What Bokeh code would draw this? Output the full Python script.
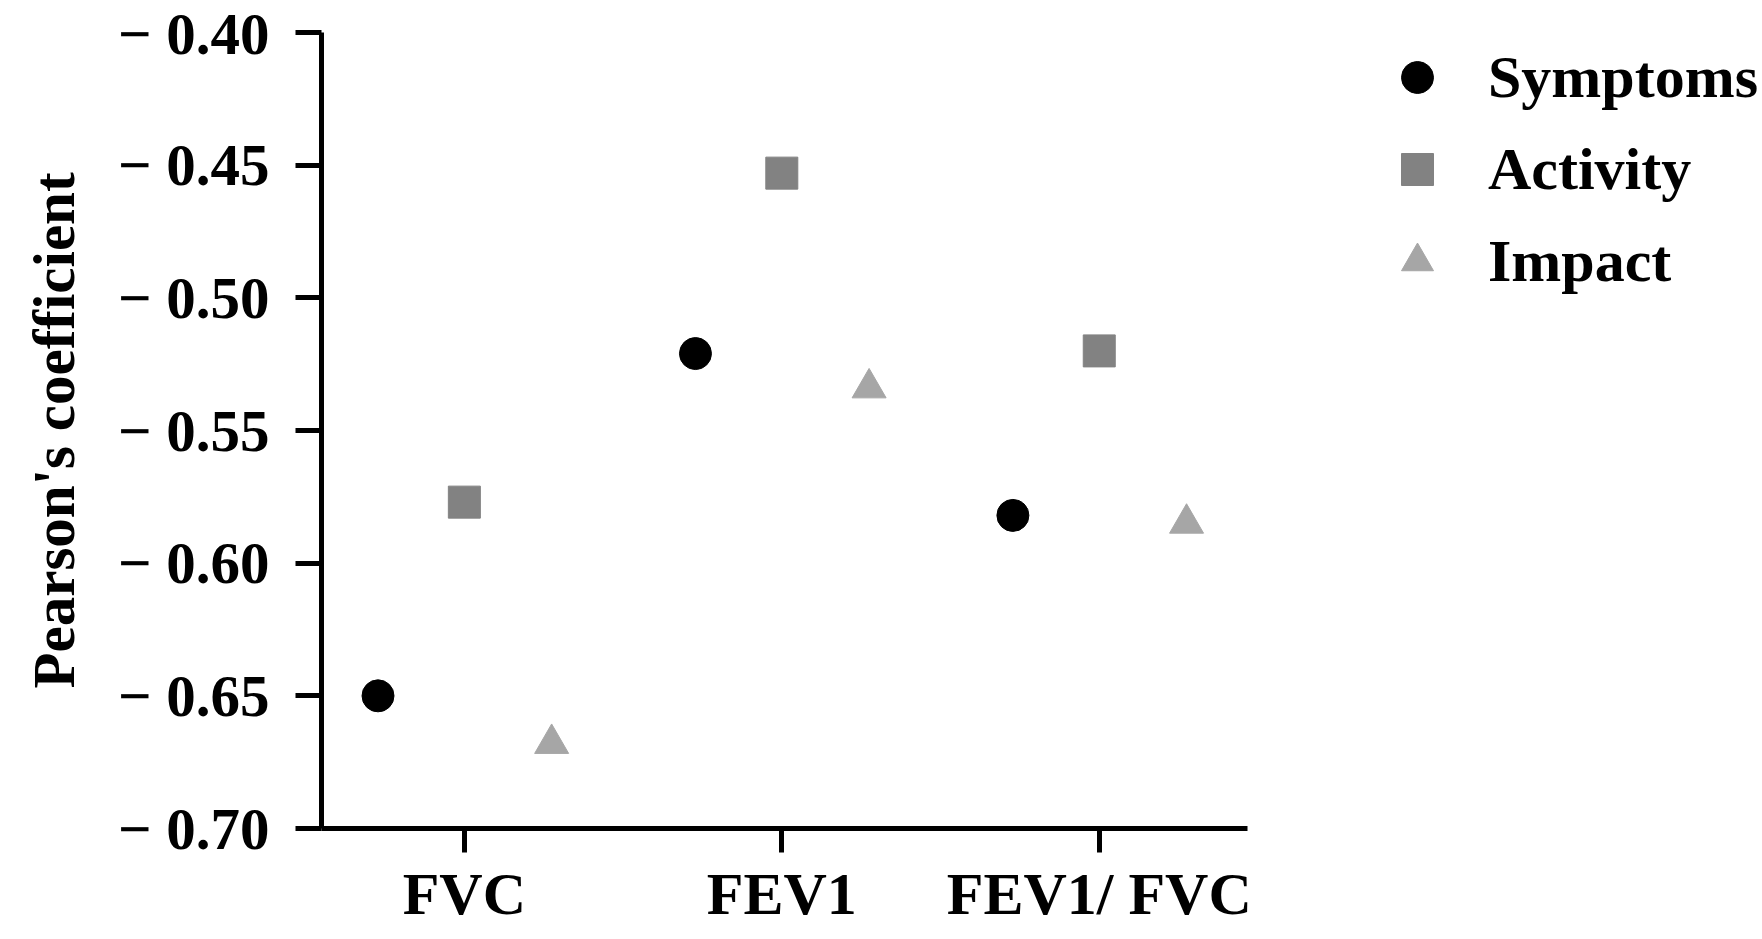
from bokeh.plotting import figure
from bokeh.models import Range1d, FixedTicker, Legend, LegendItem, ColumnDataSource
from bokeh.transform import dodge
from bokeh.embed import file_html
from bokeh.resources import INLINE

# ---- data ----
categories = ["FVC", "FEV1", "FEV1/ FVC"]
cat_pos = [1, 2, 3]
series_names = ["Symptoms", "Activity", "Impact"]
symptoms = [-0.650, -0.521, -0.582]
activity = [-0.577, -0.453, -0.520]
impact = [-0.668, -0.534, -0.585]
y_ticks = [-0.70, -0.65, -0.60, -0.55, -0.50, -0.45, -0.40]
y_tick_labels = ["\u2212 0.70", "\u2212 0.65", "\u2212 0.60", "\u2212 0.55",
                 "\u2212 0.50", "\u2212 0.45", "\u2212 0.40"]
y_title = "Pearson's coefficient"

FONT = "Liberation Serif"

src = ColumnDataSource(data=dict(x=cat_pos, symptoms=symptoms,
                                 activity=activity, impact=impact))

p = figure(frame_width=926, frame_height=796,
           x_range=Range1d(0.55, 3.467), y_range=Range1d(-0.70, -0.40),
           output_backend="svg", toolbar_location=None,
           min_border_left=321, min_border_top=32, min_border_bottom=105,
           min_border_right=513)
p.outline_line_color = None
p.xgrid.visible = False
p.ygrid.visible = False
p.background_fill_color = "white"
p.border_fill_color = "white"

r1 = p.scatter(x=dodge("x", -0.272), y="symptoms", source=src, marker="circle",
               size=32, fill_color="#000000", line_color="#000000")
r2 = p.scatter(x="x", y="activity", source=src, marker="square",
               size=32, fill_color="#828282", line_color="#828282")
r3 = p.scatter(x=dodge("x", 0.275), y="impact", source=src, marker="triangle",
               size=34, fill_color="#a6a6a6", line_color="#a6a6a6")

# axes
for ax in (p.xaxis[0], p.yaxis[0]):
    ax.axis_line_width = 5
    ax.axis_line_color = "black"
    ax.major_tick_line_width = 5
    ax.major_tick_line_color = "black"
    ax.major_tick_in = 0
    ax.minor_tick_line_color = None
    ax.major_label_text_font = FONT
    ax.major_label_text_font_style = "bold"
    ax.major_label_text_color = "black"

p.xaxis.ticker = FixedTicker(ticks=cat_pos)
p.xaxis.major_label_overrides = {k: v for k, v in zip(cat_pos, categories)}
p.xaxis.major_tick_out = 24
p.xaxis.major_label_text_font_size = "60px"
p.xaxis.major_label_standoff = 8

p.yaxis.ticker = FixedTicker(ticks=y_ticks)
p.yaxis.major_label_overrides = {k: v for k, v in zip(y_ticks, y_tick_labels)}
p.yaxis.major_tick_out = 26
p.yaxis.major_label_text_font_size = "59px"
p.yaxis.major_label_standoff = 26
p.yaxis.axis_label = y_title
p.yaxis.axis_label_text_font = FONT
p.yaxis.axis_label_text_font_style = "bold"
p.yaxis.axis_label_text_font_size = "59px"
p.yaxis.axis_label_text_color = "black"
p.yaxis.axis_label_standoff = 28

legend = Legend(items=[LegendItem(label=series_names[0], renderers=[r1]),
                       LegendItem(label=series_names[1], renderers=[r2]),
                       LegendItem(label=series_names[2], renderers=[r3])],
                location=(130, 527), glyph_width=80, glyph_height=80,
                spacing=12, label_standoff=31, padding=0, margin=0,
                border_line_color=None, background_fill_alpha=0,
                label_text_font=FONT, label_text_font_style="bold",
                label_text_font_size="60px", label_text_color="black")
p.add_layout(legend, "right")

open("out.html", "w").write(file_html(p, INLINE))
